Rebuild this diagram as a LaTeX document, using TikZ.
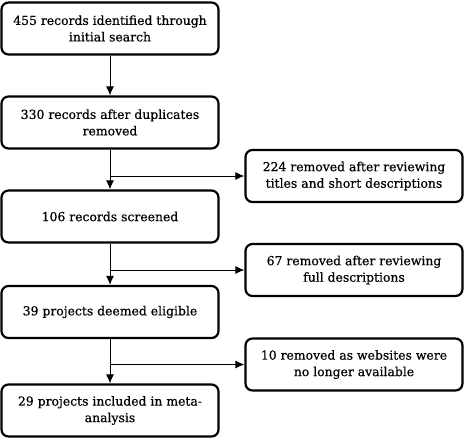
\documentclass[tikz,border=0pt]{standalone}
\usepackage{fontspec}
\setmainfont[UprightFeatures={FakeBold=0.5}]{DejaVu Serif}
\usetikzlibrary{arrows.meta}
\begin{document}
\begin{tikzpicture}[x=1pt,y=-1pt]
  \tikzset{ box/.style={draw,rounded corners=7pt,line width=2.2pt,minimum width=217pt,minimum height=52pt,align=center,inner sep=0pt,font=\fontsize{12.4}{16.5}\selectfont},
  link/.style={line width=1pt,-{Latex[length=9pt,width=8pt]}},
  }
  \useasboundingbox (0,0) rectangle (465,440);
  % main column
  \node[box] (1) at (110,28.5) {455 records identified through\\initial search};
  \node[box] (2) at (110,122.5) {330 records after duplicates\\removed};
  \node[box] (3) at (110,216.5) {106 records screened};
  \node[box] (4) at (110,312) {39 projects deemed eligible};
  \node[box] (5) at (110,410.5) {29 projects included in meta-\\analysis};
  % excluded records
  \node[box] (r1) at (354,176) {224 removed after reviewing\\titles and short descriptions};
  \node[box] (r2) at (354,270) {67 removed after reviewing\\full descriptions};
  \node[box] (r3) at (354,364.5) {10 removed as websites were\\no longer available};

  % the connection between the boxes
  \draw[link] (1) -- (2);
  \draw[link] (2) -- (3);
  \draw[link] (3) -- (4);
  \draw[link] (4) -- (5);
  \draw[link] (r1.west -| 2.south) -- (r1.west);
  \draw[link] (r2.west -| 3.south) -- (r2.west);
  \draw[link] (r3.west -| 4.south) -- (r3.west);
\end{tikzpicture}
\end{document}
